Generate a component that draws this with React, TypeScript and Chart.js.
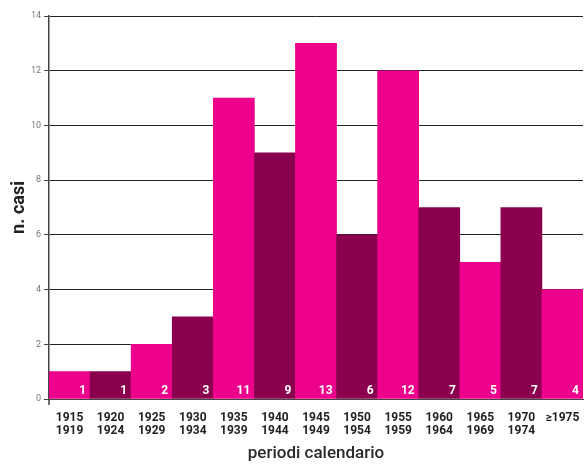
import { useEffect, useRef } from 'react';
import { Chart, registerables } from 'chart.js';

Chart.register(...registerables);

// Five-year calendar periods (start / end year) and number of cases in each
const periodStart = ['1915', '1920', '1925', '1930', '1935', '1940', '1945', '1950', '1955', '1960', '1965', '1970', '≥1975'];
const periodEnd = ['1919', '1924', '1929', '1934', '1939', '1944', '1949', '1954', '1959', '1964', '1969', '1974', ''];
const cases = [1, 1, 2, 3, 11, 9, 13, 6, 12, 7, 5, 7, 4];
const yTicks = [0, 2, 4, 6, 8, 10, 12, 14];

const PINK = '#EC008C';
const PLUM = '#8A004F';

// Writes each bar's count in white at its lower right corner
const valueLabels = {
  id: 'valueLabels',
  afterDatasetsDraw(chart: any) {
    const ctx = chart.ctx;
    const meta = chart.getDatasetMeta(0);
    ctx.save();
    ctx.fillStyle = '#ffffff';
    ctx.font = 'bold 12px Roboto, "Liberation Sans", sans-serif';
    ctx.textAlign = 'right';
    ctx.textBaseline = 'middle';
    meta.data.forEach((bar: any, i: number) => {
      const { x, width, base } = bar.getProps(['x', 'width', 'base'], true);
      ctx.fillText(String(cases[i]), x + width / 2 - 4, base - 8);
    });
    ctx.restore();
  },
};

// Extends the vertical axis a little below zero
const axisStub = {
  id: 'axisStub',
  afterDraw(chart: any) {
    const { ctx, chartArea } = chart;
    ctx.save();
    ctx.strokeStyle = '#444';
    ctx.lineWidth = 1.5;
    ctx.beginPath();
    ctx.moveTo(chartArea.left, chartArea.bottom);
    ctx.lineTo(chartArea.left, chartArea.bottom + 6);
    ctx.stroke();
    ctx.restore();
  },
};

export default function App() {
  const ref = useRef<HTMLCanvasElement>(null);

  useEffect(() => {
    const canvas = ref.current;
    if (!canvas) return;
    const labels = periodStart.map((s, i) => (periodEnd[i] ? [s, periodEnd[i]] : [s]));
    const chart = new Chart(canvas, {
      type: 'bar',
      data: {
        labels,
        datasets: [
          {
            data: cases,
            backgroundColor: cases.map((_, i) => (i % 2 === 0 ? PINK : PLUM)),
            borderWidth: 0,
            barPercentage: 1,
            categoryPercentage: 1,
          },
        ],
      },
      options: {
        animation: false,
        responsive: false,
        maintainAspectRatio: false,
        layout: { padding: { top: 16, right: 4, left: 9, bottom: 4 } },
        plugins: {
          legend: { display: false },
          tooltip: { enabled: false },
        },
        scales: {
          x: {
            afterFit(scale: any) {
              scale.height = 65;
              scale.paddingLeft = 0;
              scale.paddingRight = 0;
            },
            grid: { display: false, drawTicks: false, tickLength: 0 },
            border: { display: true, color: '#444', width: 1 },
            ticks: {
              color: '#222',
              font: { family: 'Roboto, "Liberation Sans", sans-serif', size: 12, weight: 'bold', lineHeight: 1.1 },
              padding: 12,
              maxRotation: 0,
              autoSkip: false,
            },
            title: {
              display: true,
              text: 'periodi calendario',
              color: '#2a2a2a',
              font: { family: 'Roboto, "Liberation Sans", sans-serif', size: 17, weight: 500 },
              padding: { top: 0, bottom: 0 },
            },
          },
          y: {
            min: 0,
            max: 14,
            afterBuildTicks(scale: any) {
              scale.ticks = yTicks.map((v) => ({ value: v }));
            },
            afterFit(scale: any) {
              scale.width = 40;
            },
            grid: { color: '#222', lineWidth: 1, tickLength: 5, tickColor: '#444' },
            border: { display: true, color: '#444', width: 1.5 },
            ticks: {
              color: '#777',
              font: { family: 'Roboto, "Liberation Sans", sans-serif', size: 9 },
              padding: 3,
            },
            title: {
              display: true,
              text: 'n. casi',
              color: '#222',
              font: { family: 'Roboto, "Liberation Sans", sans-serif', size: 18, weight: 'bold' },
              padding: { top: 0, bottom: 0 },
            },
          },
        },
      },
      plugins: [valueLabels, axisStub],
    });
    return () => chart.destroy();
  }, []);

  return (
    <div style={{ position: 'fixed', left: 0, top: 0, width: 587, height: 468, background: '#fff' }}>
      <canvas ref={ref} width={587} height={468} style={{ display: 'block' }} />
    </div>
  );
}
